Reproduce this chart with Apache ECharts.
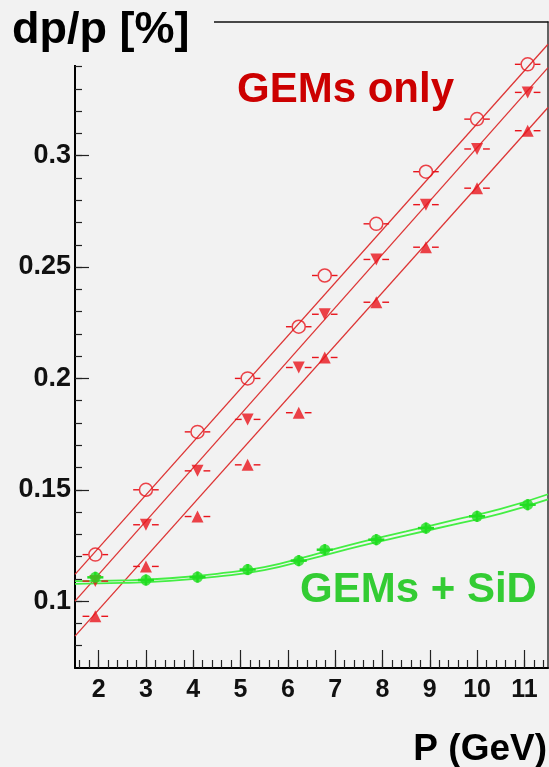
<!DOCTYPE html>
<html>
<head>
<meta charset="utf-8">
<script src="https://cdn.jsdelivr.net/npm/echarts@6/dist/echarts.min.js"></script>
<style>
  html, body { margin: 0; padding: 0; background: #f2f2f2; }
  #chart { width: 549px; height: 767px; }
</style>
</head>
<body>
<div id="chart"></div>
<script>
// momentum points (GeV)
const momentum = [1.93, 3.0, 4.09, 5.15, 6.23, 6.78, 7.87, 8.92, 10.0, 11.07]
// dp/p [%], GEMs only, three configurations
const gemsCircle = [0.1209, 0.150, 0.176, 0.200, 0.2232, 0.2462, 0.2694, 0.2928, 0.3164, 0.341]
const gemsDown = [0.109, 0.1343, 0.1585, 0.1816, 0.2049, 0.2288, 0.2534, 0.278, 0.303, 0.3284]
const gemsUp = [0.0932, 0.1156, 0.138, 0.1612, 0.1846, 0.2094, 0.2342, 0.2589, 0.2854, 0.3112]
// dp/p [%], GEMs + SiD
const gemsSid = [0.1107, 0.1095, 0.1108, 0.1142, 0.1182, 0.1231, 0.1276, 0.1328, 0.1381, 0.1433]

// linear fits, read at the frame edges
const fitEdges = [1.5, 11.5]
const fitCircle = [0.112, 0.350]
const fitDown = [0.100, 0.3395]
const fitUp = [0.0843, 0.3216]

// GEMs + SiD fit band
const bandP = [1.5, 2.5, 3.5, 4.5, 5.5, 6.5, 7.5, 8.5, 9.5, 10.5, 11.5]
const bandUpper = [0.1090, 0.1093, 0.1103, 0.1123, 0.1153, 0.1206, 0.1263, 0.1313, 0.1364, 0.1414, 0.1480]
const bandLower = [0.1078, 0.1082, 0.1091, 0.1110, 0.1139, 0.1191, 0.1246, 0.1295, 0.1344, 0.1393, 0.1457]

// errors
const pErrRed = 0.27
const pErrGreen = 0.17
const dpErrGreen = 0.0025

// ticks
const xLabels = [2, 3, 4, 5, 6, 7, 8, 9, 10, 11]
const yLabels = [0.1, 0.15, 0.2, 0.25, 0.3]

const xMinor = []
for (let i = 8; i <= 57; i++) xMinor.push(Math.round(i * 20) / 100)
const yMinor = []
for (let i = 8; i <= 34; i++) yMinor.push(i / 100)

const bg = '#f2f2f2'
const font = '"Liberation Sans", Arial, Helvetica, sans-serif'
const red = '#e8141c'
const redLine = '#dd3535'
const green = '#22dd22'

const pairs = (xs, ys) => xs.map((x, i) => [x, ys[i]])

function xErrBars (data, color, err, gap) {
  return {
    type: 'custom',
    data,
    z: 3,
    renderItem (params, api) {
      const x = api.value(0)
      const y = api.value(1)
      const c = api.coord([x, y])
      const l = api.coord([x - err, y])
      const r = api.coord([x + err, y])
      const style = { stroke: color, lineWidth: 1.4 }
      return {
        type: 'group',
        children: [
          { type: 'line', shape: { x1: l[0], y1: c[1], x2: c[0] - gap, y2: c[1] }, style },
          { type: 'line', shape: { x1: c[0] + gap, y1: c[1], x2: r[0], y2: c[1] }, style }
        ]
      }
    }
  }
}

function greenBars (data) {
  return {
    type: 'custom',
    data,
    z: 4,
    renderItem (params, api) {
      const x = api.value(0)
      const y = api.value(1)
      const l = api.coord([x - pErrGreen, y])
      const r = api.coord([x + pErrGreen, y])
      const t = api.coord([x, y + dpErrGreen])
      const b = api.coord([x, y - dpErrGreen])
      const style = { stroke: green, lineWidth: 2.5 }
      return {
        type: 'group',
        children: [
          { type: 'line', shape: { x1: l[0], y1: l[1], x2: r[0], y2: r[1] }, style },
          { type: 'line', shape: { x1: t[0], y1: t[1], x2: b[0], y2: b[1] }, style }
        ]
      }
    }
  }
}

function fitLine (ys) {
  return {
    type: 'line',
    data: pairs(fitEdges, ys),
    symbol: 'none',
    z: 2,
    lineStyle: { color: redLine, width: 1.3 }
  }
}

function bandLine (ys) {
  return {
    type: 'line',
    data: pairs(bandP, ys),
    smooth: true,
    symbol: 'none',
    z: 2,
    lineStyle: { color: '#44ee44', width: 1.8 }
  }
}

const xBase = { type: 'value', min: 1.5, max: 11.5, splitLine: { show: false } }
const yBase = { type: 'value', min: 0.07, max: 0.36, splitLine: { show: false } }

const option = {
  backgroundColor: bg,
  animation: false,
  grid: { left: 75, right: 1, top: 22, bottom: 99 },
  xAxis: [
    {
      ...xBase,
      position: 'bottom',
      axisLine: { lineStyle: { color: '#000', width: 2 } },
      axisTick: { customValues: xMinor, inside: true, length: 8, lineStyle: { color: '#222', width: 1.2 } },
      axisLabel: {
        customValues: xLabels,
        margin: 10,
        color: '#111',
        fontSize: 25,
        fontWeight: 'bold',
        fontFamily: font
      }
    },
    {
      ...xBase,
      position: 'bottom',
      axisLine: { show: false },
      axisTick: { customValues: xLabels, inside: true, length: 18, lineStyle: { color: '#222', width: 1.2 } },
      axisLabel: { show: false }
    },
    {
      ...xBase,
      position: 'top',
      axisLine: { lineStyle: { color: '#111', width: 1.5 } },
      axisTick: { show: false },
      axisLabel: { show: false }
    }
  ],
  yAxis: [
    {
      ...yBase,
      position: 'left',
      axisLine: { show: true, lineStyle: { color: '#000', width: 2 } },
      axisTick: { customValues: yMinor, inside: true, length: 7, lineStyle: { color: '#222', width: 1.2 } },
      axisLabel: {
        customValues: yLabels,
        margin: 4,
        padding: [6, 0, 0, 0],
        color: '#111',
        fontSize: 27,
        fontWeight: 'bold',
        fontFamily: font
      }
    },
    {
      ...yBase,
      position: 'left',
      axisLine: { show: false },
      axisTick: { customValues: yLabels, inside: true, length: 14, lineStyle: { color: '#222', width: 1.2 } },
      axisLabel: { show: false }
    },
    {
      ...yBase,
      position: 'right',
      axisLine: { show: true, lineStyle: { color: '#333', width: 1.5 } },
      axisTick: { show: false },
      axisLabel: { show: false }
    }
  ],
  series: [
    fitLine(fitCircle),
    fitLine(fitDown),
    fitLine(fitUp),
    bandLine(bandUpper),
    bandLine(bandLower),
    xErrBars(pairs(momentum, gemsCircle), red, pErrRed, 7),
    xErrBars(pairs(momentum, gemsDown), red, pErrRed, 6),
    xErrBars(pairs(momentum, gemsUp), red, pErrRed, 6),
    {
      type: 'scatter',
      data: pairs(momentum, gemsCircle),
      symbol: 'circle',
      symbolSize: 13,
      z: 5,
      itemStyle: { color: 'rgba(0,0,0,0)', borderColor: red, borderWidth: 1.5 }
    },
    {
      type: 'scatter',
      data: pairs(momentum, gemsDown),
      symbol: 'triangle',
      symbolRotate: 180,
      symbolSize: 12,
      z: 5,
      itemStyle: { color: red }
    },
    {
      type: 'scatter',
      data: pairs(momentum, gemsUp),
      symbol: 'triangle',
      symbolSize: 12,
      z: 5,
      itemStyle: { color: red }
    },
    greenBars(pairs(momentum, gemsSid)),
    {
      type: 'scatter',
      data: pairs(momentum, gemsSid),
      symbol: 'circle',
      symbolSize: 11,
      z: 6,
      itemStyle: { color: green }
    }
  ],
  graphic: [
    { type: 'rect', z: 100, shape: { x: 0, y: 0, width: 214, height: 65 }, style: { fill: bg } },
    {
      type: 'text', z: 101, x: 12, y: 31,
      style: { text: 'dp/p [%]', fill: '#000', font: 'bold 45px ' + font, verticalAlign: 'middle' }
    },
    {
      type: 'text', z: 101, x: 237, y: 90,
      style: { text: 'GEMs only', fill: '#cc0000', font: 'bold 42px ' + font, verticalAlign: 'middle' }
    },
    {
      type: 'text', z: 101, x: 300, y: 590,
      style: { text: 'GEMs + SiD', fill: '#33cc33', font: 'bold 42px ' + font, verticalAlign: 'middle' }
    },
    {
      type: 'text', z: 101, x: 547, y: 750,
      style: { text: 'P (GeV)', fill: '#000', font: 'bold 37px ' + font, align: 'right', verticalAlign: 'middle' }
    }
  ]
}

const chart = echarts.init(document.getElementById('chart'), null, { renderer: 'canvas' })
chart.setOption(option)
</script>
</body>
</html>
